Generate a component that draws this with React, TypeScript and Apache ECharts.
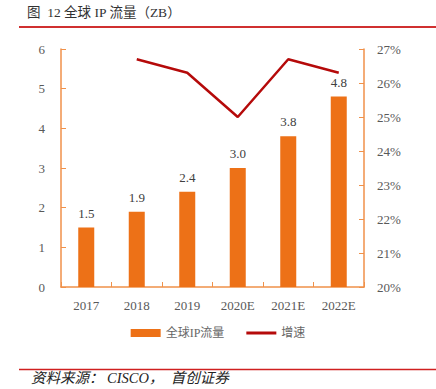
import React, { useEffect, useRef } from "react";
import * as echarts from "echarts";

const categories = ["2017", "2018", "2019", "2020E", "2021E", "2022E"];
const trafficZB = [1.5, 1.9, 2.4, 3.0, 3.8, 4.8];
const growthPct = [null, 26.7, 26.3, 25.0, 26.7, 26.3];
const leftTicks = [0, 6, 1];
const rightTicks = [20, 27, 1];

const serif = "'Times New Roman', 'Liberation Serif', 'Noto Sans CJK SC', serif";
const cjk = "'Liberation Serif', 'Noto Sans CJK SC', serif";

export default function App() {
  const ref = useRef<HTMLDivElement>(null);
  useEffect(() => {
    if (!ref.current) return;
    const chart = echarts.init(ref.current, null, { renderer: "svg" });
    chart.setOption({
      animation: false,
      backgroundColor: "#ffffff",
      grid: { left: 61, right: 72, top: 49, bottom: 102 },
      graphic: [
        {
          type: "text",
          left: 27,
          top: 6,
          style: {
            text: "图  12 全球 IP 流量（ZB）",
            font: "normal 13.5px " + cjk,
            fill: "#333",
          },
        },
        { type: "line", shape: { x1: 19, y1: 27, x2: 436, y2: 27 }, style: { stroke: "#D03030", lineWidth: 2 } },
        { type: "line", shape: { x1: 19, y1: 369.5, x2: 436, y2: 369.5 }, style: { stroke: "#D02020", lineWidth: 1.5 } },
        {
          type: "text",
          left: 31,
          top: 371,
          style: {
            text: "资料来源： CISCO，  首创证券",
            font: "italic 14.5px " + cjk,
            fill: "#222",
          },
        },
      ],
      legend: {
        bottom: 45,
        left: "center",
        itemGap: 22,
        itemWidth: 30,
        itemHeight: 8,
        textStyle: { fontFamily: cjk, fontSize: 12, color: "#666" },
        data: [
          { name: "全球IP流量", icon: "rect" },
          { name: "增速", icon: "path://M0,0 L30,0 L30,3 L0,3 Z" },
        ],
      },
      xAxis: {
        type: "category",
        data: categories,
        boundaryGap: true,
        axisLine: { lineStyle: { color: "#F0914A", width: 1.5 } },
        axisTick: { show: true, inside: true, length: 5, lineStyle: { color: "#F0914A" } },
        axisLabel: { fontFamily: serif, fontSize: 13, color: "#595959", margin: 12 },
      },
      yAxis: [
        {
          type: "value",
          min: leftTicks[0],
          max: leftTicks[1],
          interval: leftTicks[2],
          splitLine: { show: false },
          axisLine: { show: true, lineStyle: { color: "#F0914A", width: 1.5 } },
          axisTick: { show: true, inside: true, length: 5, lineStyle: { color: "#F0914A" } },
          axisLabel: { fontFamily: serif, fontSize: 13, color: "#595959", margin: 16 },
        },
        {
          type: "value",
          min: rightTicks[0],
          max: rightTicks[1],
          interval: rightTicks[2],
          position: "right",
          splitLine: { show: false },
          axisLine: { show: true, lineStyle: { color: "#F0914A", width: 1.5 } },
          axisTick: { show: true, inside: true, length: 5, lineStyle: { color: "#F0914A" } },
          axisLabel: { fontFamily: serif, fontSize: 13, color: "#595959", margin: 13, formatter: "{value}%" },
        },
      ],
      series: [
        {
          name: "全球IP流量",
          type: "bar",
          data: trafficZB,
          barWidth: 16,
          itemStyle: { color: "#ED7117" },
          label: {
            show: true,
            position: "top",
            distance: 8,
            fontFamily: serif,
            fontSize: 13,
            color: "#404040",
            formatter: (p: any) => Number(p.value).toFixed(1),
          },
        },
        {
          name: "增速",
          type: "line",
          yAxisIndex: 1,
          data: growthPct,
          showSymbol: false,
          symbol: "none",
          lineStyle: { color: "#B50A0A", width: 2.5 },
          itemStyle: { color: "#B50A0A" },
        },
      ],
    });
    return () => chart.dispose();
  }, []);
  return <div ref={ref} style={{ width: 436, height: 389, position: "absolute", left: 0, top: 0 }} />;
}
